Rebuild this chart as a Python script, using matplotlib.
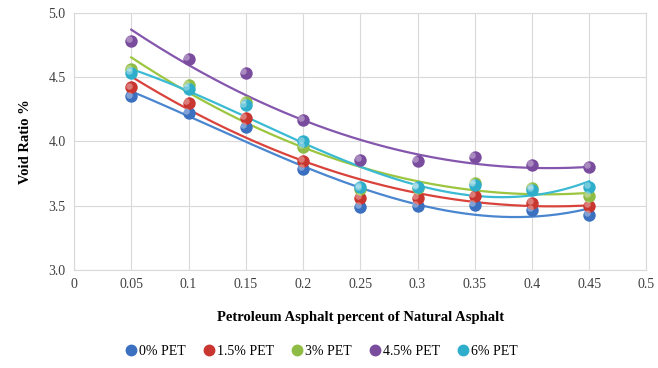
import numpy as np
import matplotlib
matplotlib.use("Agg")
import matplotlib.pyplot as plt
from matplotlib.lines import Line2D

plt.rcParams["font.family"] = ["Liberation Serif", "DejaVu Serif"]

# data
pet_ratio = [0.05, 0.10, 0.15, 0.20, 0.25, 0.30, 0.35, 0.40, 0.45]
void_0 = [4.35, 4.22, 4.11, 3.79, 3.49, 3.50, 3.51, 3.47, 3.43]
void_15 = [4.42, 4.30, 4.18, 3.85, 3.56, 3.56, 3.58, 3.52, 3.50]
void_3 = [4.56, 4.44, 4.31, 3.96, 3.63, 3.64, 3.68, 3.64, 3.58]
void_45 = [4.78, 4.64, 4.53, 4.17, 3.86, 3.85, 3.88, 3.82, 3.80]
void_6 = [4.53, 4.41, 4.28, 4.00, 3.65, 3.65, 3.66, 3.62, 3.65]
labels = ["0% PET", "1.5% PET", "3% PET", "4.5% PET", "6% PET"]
# trendline polynomial order per series
fit_order = [3, 2, 2, 2, 3]

series = [void_0, void_15, void_3, void_45, void_6]
marker_colors = ["#3b6fbf", "#c9352f", "#8fbc45", "#7a4c9e", "#2eaecb"]
line_colors = ["#4a86d0", "#d9433b", "#9cc63f", "#8456ad", "#3bbad4"]

fig = plt.figure(figsize=(6.58, 3.68), dpi=100)
ax = fig.add_axes([0.1125, 0.266, 0.87, 0.699])

x = np.array(pet_ratio)
xs = np.linspace(x.min(), x.max(), 200)
for ys, lc, order in zip(series, line_colors, fit_order):
    coef = np.polyfit(x, ys, order)
    ax.plot(xs, np.polyval(coef, xs), color=lc, lw=1.6, zorder=2)
for ys, mc in zip(series, marker_colors):
    ax.scatter(x, ys, s=80, color=mc, linewidth=0, zorder=3)
    # soft highlight to mimic the glossy spheres
    ax.scatter(x - 0.002, np.array(ys) + 0.015, s=22, color="white", alpha=0.35,
               linewidth=0, zorder=4)

ax.set_xlim(0, 0.5)
ax.set_ylim(3.0, 5.0)
ax.set_xticks(np.arange(0, 0.51, 0.05))
ax.set_xticklabels(["0", "0.05", "0.1", "0.15", "0.2", "0.25", "0.3", "0.35", "0.4", "0.45", "0.5"])
ax.set_yticks([3.0, 3.5, 4.0, 4.5, 5.0])
ax.set_yticklabels(["3.0", "3.5", "4.0", "4.5", "5.0"])
ax.grid(True, color="#d9d9d9", lw=0.8)
ax.set_axisbelow(True)
for sp in ax.spines.values():
    sp.set_color("#d9d9d9")
    sp.set_linewidth(0.8)
ax.tick_params(length=0, labelsize=10, colors="#404040", pad=6)

ax.set_xlabel("Petroleum Asphalt percent of Natural Asphalt", fontsize=10.5,
              fontweight="bold", labelpad=14)
ax.set_ylabel("Void Ratio %", fontsize=10.5, fontweight="bold", labelpad=12)

handles = [Line2D([], [], marker="o", ls="", color=c, markersize=7.5) for c in marker_colors]
fig.legend(handles, labels, loc="center", bbox_to_anchor=(0.49, 0.045), ncol=5,
           frameon=False, fontsize=10, handlelength=0.6, handletextpad=0.25,
           columnspacing=1.4)

fig.savefig("out.png", dpi=100)
